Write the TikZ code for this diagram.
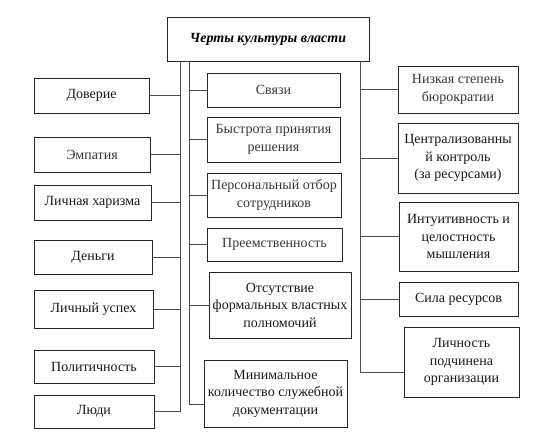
\documentclass[tikz,border=0pt]{standalone}
\usepackage{fontspec}
\setmainfont{Liberation Serif}
\begin{document}
\begin{tikzpicture}[x=1pt,y=-1pt,
  box/.style={draw=black!85, line width=0.8pt, align=center, inner sep=1pt,
    font=\rmfamily\fontsize{14}{17.5}\selectfont, text=black!90},
  lite/.style={text=black!78},
  conn/.style={draw=black!70, line width=0.6pt}]
\useasboundingbox[fill=white] (0,0) rectangle (550,447);
% title
\node[box, minimum width=202, minimum height=44, font=\rmfamily\fontsize{14}{17}\selectfont\bfseries\itshape, text=black] (title) at (268,39) {Черты культуры власти};
% left column
\node[box, minimum width=115, minimum height=35] (dov) at (91.5,95.5) {Доверие};
\node[box, lite, minimum width=116, minimum height=35] (emp) at (92,154.5) {Эмпатия};
\node[box, minimum width=117, minimum height=35] (har) at (92.5,202.5) {Личная харизма};
\node[box, minimum width=118, minimum height=34] (den) at (93,257) {Деньги};
\node[box, minimum width=119, minimum height=38] (usp) at (93.5,309) {Личный успех};
\node[box, minimum width=120, minimum height=33] (pol) at (94,366.5) {Политичность};
\node[box, minimum width=120, minimum height=33] (lud) at (94,411.5) {Люди};
% middle column
\node[box, lite, minimum width=133, minimum height=34] (svy) at (273.5,90) {Связи};
\node[box, lite, minimum width=133, minimum height=45] (bys) at (273.5,139.5) {Быстрота принятия\\решения};
\node[box, lite, minimum width=134, minimum height=44] (per) at (274,195) {Персональный отбор\\сотрудников};
\node[box, lite, minimum width=135, minimum height=33] (pre) at (274.5,244.5) {Преемственность};
\node[box, minimum width=142, minimum height=66] (ots) at (280,305) {Отсутствие\\формальных властных\\полномочий};
\node[box, minimum width=143, minimum height=67] (min) at (275.5,393.5) {Минимальное\\количество служебной\\документации};
% right column
\node[box, lite, minimum width=120, minimum height=47] (niz) at (458,89.5) {Низкая степень\\бюрократии};
\node[box, minimum width=120, minimum height=70] (cen) at (458,158) {Централизованны\\й контроль\\(за ресурсами)};
\node[box, minimum width=119, minimum height=69] (int) at (458.5,236.5) {Интуитивность и\\целостность\\мышления};
\node[box, minimum width=119, minimum height=34] (sil) at (458.5,299) {Сила ресурсов};
\node[box, minimum width=115, minimum height=70] (lic) at (461.5,362) {Личность\\подчинена\\организации};
% trunks
\coordinate (lt) at (180,61);
\coordinate (mt) at (189,61);
\coordinate (rt) at (360,61);
\draw[conn] (lt) |- (lud.east);
\foreach \b in {dov,emp,har,den,usp,pol} \draw[conn] (\b.east) -- (\b.east -| lt);
\draw[conn] (mt) |- ([yshift=-11pt]min.west);
\foreach \b in {svy,bys,per,pre,ots} \draw[conn] (\b.west -| mt) -- (\b.west);
\draw[conn] (rt) |- ([yshift=-10pt]lic.west);
\foreach \b in {niz,cen,int,sil} \draw[conn] (\b.west -| rt) -- (\b.west);
\end{tikzpicture}
\end{document}
